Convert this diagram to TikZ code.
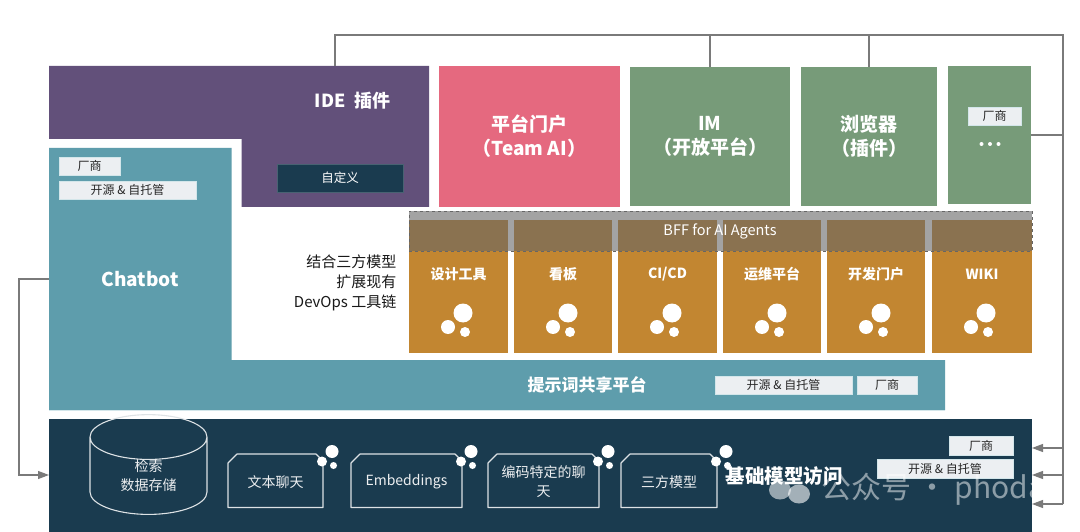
\documentclass[tikz,border=0pt]{standalone}
\usepackage{fontspec}
\setmainfont{Noto Sans CJK SC}
\usetikzlibrary{arrows.meta,shapes.geometric}
\definecolor{cpurple}{HTML}{62507A}
\definecolor{cpink}{HTML}{E5697F}
\definecolor{cgreen}{HTML}{779B79}
\definecolor{cteal}{HTML}{5E9DAC}
\definecolor{cdark}{HTML}{1A3B4F}
\definecolor{corange}{HTML}{C28631}
\definecolor{ctag}{HTML}{ECEFF2}
\definecolor{cwire}{HTML}{7A7A7A}
\definecolor{cedge}{HTML}{D3E6EA}
\tikzset{
  x=1pt,y=-1pt,
  panel/.style={inner sep=0pt,text=white,align=center,font=\fontsize{19}{24}\selectfont\bfseries},
  tagbox/.style={inner sep=0pt,fill=ctag,draw=cedge,line width=.4pt,text=black!85,font=\fontsize{12}{14}\selectfont},
  wire/.style={draw=cwire,line width=1.1pt},
  arrowwire/.style={wire,-{Triangle[length=11pt,width=8pt,fill=cwire]}},
  modelbox/.style={draw=white!85!cdark,line width=1.1pt,fill=none,line join=round},
  modeltext/.style={inner sep=0pt,text=white!92!cdark,align=center,font=\fontsize{14}{19}\selectfont},
  dot/.style={circle,fill=white,inner sep=0pt,draw=none},
  coltext/.style={inner sep=0pt,text=white,font=\fontsize{14}{17}\selectfont\bfseries},
}
% \rectnode{name}{x1}{y1}{x2}{y2}{style}{text}
\newcommand{\rectnode}[7]{%
  \pgfmathsetmacro{\rcx}{(#2+#4)/2}\pgfmathsetmacro{\rcy}{(#3+#5)/2}%
  \pgfmathsetmacro{\rcw}{#4-#2}\pgfmathsetmacro{\rch}{#5-#3}%
  \node[#6,minimum width=\rcw pt,minimum height=\rch pt] (#1) at (\rcx,\rcy) {#7};}
% \threedots{prefix}{x}{y}{r1}{dx2}{dy2}{r2}{dx3}{dy3}{r3}
\newcommand{\threedots}[9]{%
  \node[dot,minimum size=#3*2 pt] (#1a) at (#2) {};
  \node[dot,minimum size=#6*2 pt] (#1b) at ([shift={(#4,#5)}]#2) {};
  \node[dot,minimum size=#9*2 pt] (#1c) at ([shift={(#7,#8)}]#2) {};}
\newcommand{\modelshape}[6]{% name x1 y1 x2 y2 text
  \draw[modelbox] (#2+9,#3) -- (#4-7,#3) -- (#4,#3+7) -- (#4,#5) -- (#2,#5) -- (#2,#3+9) -- cycle;
  \pgfmathsetmacro{\mcx}{(#2+#4)/2}\pgfmathsetmacro{\mcy}{(#3+#5)/2+1}%
  \node[modeltext] (#1) at (\mcx,\mcy) {#6};}
\newcommand{\column}[4]{% name x1 x2 text
  \rectnode{#1}{#2}{220}{#3}{353}{fill=corange,inner sep=0pt}{}
  \node[coltext] (#1t) at ({(#2+#3)/2},274) {#4};
  \threedots{#1d}{#2+54,313}{9.5}{-15}{14}{7}{2}{19}{5}}
\begin{document}
\begin{tikzpicture}
\useasboundingbox (0,0) rectangle (1080,532);
\fill[white] (0,0) rectangle (1080,532);

% top row
\fill[cpurple] (49,66) -| (429,207) -| (241.5,139) -| cycle;
\rectnode{ide}{49}{66}{429}{139}{inner sep=0pt}{}
\node[panel,font=\fontsize{18}{22}\selectfont\bfseries] (idet) at (352.5,101) {IDE\ \ 插件};
\rectnode{custom}{277}{164}{403}{192}{fill=cdark,draw=cdark!80!white,line width=.4pt,inner sep=0pt,text=white,font=\fontsize{12.5}{15}\selectfont}{自定义}
\rectnode{portal}{439}{66}{620}{207}{panel,fill=cpink}{平台门户\\（Team AI）}
\rectnode{im}{630}{67}{790}{206}{panel,fill=cgreen}{IM\\（开放平台）}
\rectnode{browser}{801}{67}{937}{206}{panel,fill=cgreen}{浏览器\\（插件）}
\rectnode{more}{948}{66}{1031}{204}{panel,fill=cgreen}{}
\rectnode{moretag}{968}{107}{1021}{125}{tagbox}{厂商}
\node[dot,minimum size=4pt] (md1) at (981.5,144) {};
\node[dot,minimum size=4pt] (md2) at (990,144) {};
\node[dot,minimum size=4pt] (md3) at (998.5,144) {};

% prompt strip and chatbot
\fill[cteal] (49,148) -| (231.5,360) -| (945,410) -| cycle;
\draw[cedge,line width=.6pt] (49,410) -- (945,410);
\rectnode{chatbot}{49}{148}{231.5}{410}{panel,font=\fontsize{19}{24}\selectfont\bfseries}{Chatbot}
\rectnode{tag1}{59}{157}{120}{175.5}{tagbox}{厂商}
\rectnode{tag2}{59}{181}{196}{199.5}{tagbox}{开源 \& 自托管}
\rectnode{strip}{49}{360}{945}{410}{inner sep=0pt}{}
\node[panel,font=\fontsize{17}{21}\selectfont\bfseries] (stript) at (587,385) {提示词共享平台};
\rectnode{tag3}{715}{376}{852}{394}{tagbox}{开源 \& 自托管}
\rectnode{tag4}{857}{376}{917}{394}{tagbox}{厂商}

% devops tool text
\node[inner sep=0pt,align=right,anchor=east,text=black!90,font=\fontsize{15}{20}\selectfont] (devops) at (396.5,283) {结合三方模型\\扩展现有\\DevOps 工具链};

% columns
\column{c1}{409}{508}{设计工具}
\column{c2}{514}{612}{看板}
\column{c3}{618}{717}{CI/CD}
\column{c4}{723}{821}{运维平台}
\column{c5}{827}{925}{开发门户}
\column{c6}{932}{1032}{WIKI}

% BFF band
\rectnode{bff}{409}{211}{1032}{251}{fill=black!60,fill opacity=.6,draw=black!60,dashed,line width=.9pt,inner sep=0pt}{}
\node[inner sep=0pt,text=white,font=\fontsize{14.5}{17}\selectfont] (bfft) at (720,231) {BFF for AI Agents};

% base
\rectnode{base}{49}{419}{1032}{532}{fill=cdark,inner sep=0pt}{}
\node[cylinder,shape border rotate=90,aspect=0.8,draw=white!85!cdark,line width=1.1pt,minimum width=117pt,minimum height=75pt,inner sep=0pt,text=white!92!cdark,align=center,font=\fontsize{14}{19}\selectfont] (store) at (148.5,476) {检索\\数据存储};
\modelshape{m1}{228}{454}{323}{507.5}{文本聊天}
\modelshape{m2}{351}{454}{462}{507.5}{Embeddings}
\modelshape{m3}{488}{454}{599}{507.5}{编码特定的聊\\天}
\modelshape{m4}{621}{454}{717}{507.5}{三方模型}
\threedots{d1}{332,451.5}{6.5}{-10}{10}{5}{1.5}{14}{3.5}
\threedots{d2}{471,451.5}{6.5}{-10}{10}{5}{1.5}{14}{3.5}
\threedots{d3}{608,451.5}{6.5}{-10}{10}{5}{1.5}{14}{3.5}
\threedots{d4}{726,451.5}{6.5}{-10}{10}{5}{1.5}{14}{3.5}
\node[panel,font=\fontsize{19.5}{24}\selectfont\bfseries] (baset) at (784,476) {基础模型访问};
\rectnode{tag5}{949}{436}{1013}{455}{tagbox}{厂商}
\rectnode{tag6}{877}{459}{1013}{478}{tagbox}{开源 \& 自托管}

% watermark
\fill[white,opacity=.55] (780,490) ellipse (11 and 9.5);
\node[inner sep=0pt,text=white,opacity=.5,font=\fontsize{30}{34}\selectfont,anchor=west] (wm) at (821,489) {公众号 · phoda};
\fill[white,opacity=.6] (799,494) ellipse (11 and 9.5);

% connectors
\coordinate (tl) at (335,35);
\coordinate (tr) at (1063,35);
\coordinate (a1) at (1032,448);
\coordinate (a2) at (1032,475);
\coordinate (a3) at (1032,504);
\coordinate (in) at (49,475);
\coordinate (lf) at (19,279);
\draw[wire] (tl |- ide.north) -- (tl) -- (tr) -- (tr |- a3);
\draw[wire] (im.north) -- (im.north |- tl);
\draw[wire] (browser.north) -- (browser.north |- tl);
\draw[wire] (more.east) -- (more.east -| tr);
\draw[arrowwire] (tr |- a1) -- (a1);
\draw[arrowwire] (tr |- a2) -- (a2);
\draw[arrowwire] (tr |- a3) -- (a3);
\draw[arrowwire] (chatbot.west) -- (lf) -- (lf |- in) -- (in);
\end{tikzpicture}
\end{document}
